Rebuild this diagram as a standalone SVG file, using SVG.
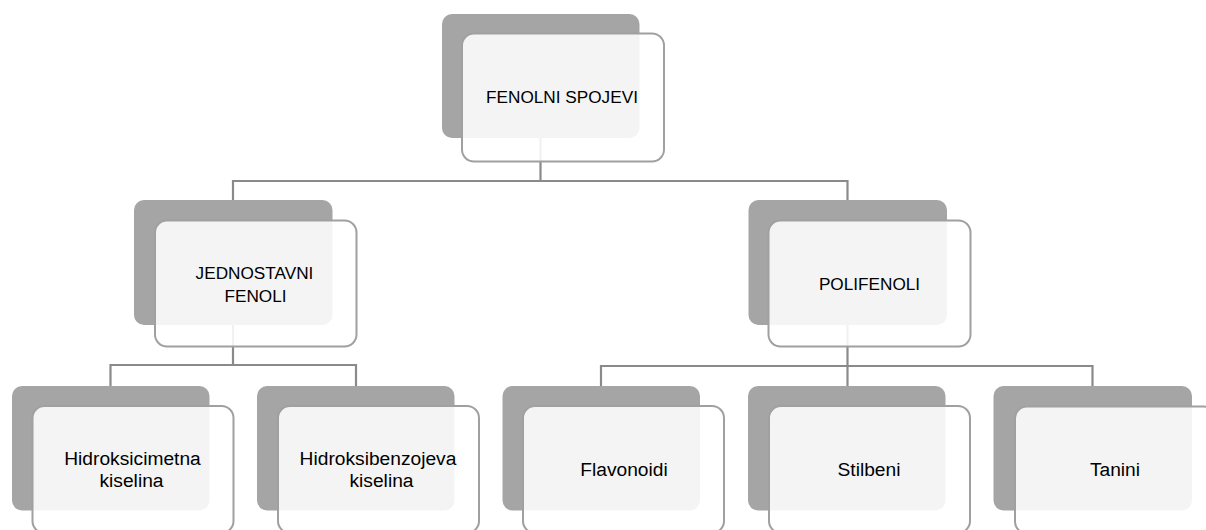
<svg xmlns="http://www.w3.org/2000/svg" width="1206" height="530" viewBox="0 0 1206 530">
<style>
.back{fill:#a5a5a5}
.front{fill:#ffffff;fill-opacity:0.88;stroke:#a0a0a0;stroke-width:2}
.conn{fill:none;stroke:#8a8a8a;stroke-width:2.2}
text{font-family:"Liberation Sans",Arial,sans-serif;fill:#000;text-anchor:middle}
.caps{font-size:17.2px}
.low{font-size:19.2px}
</style>
<rect width="1206" height="530" fill="#ffffff"/>
<g id="connectors" class="conn">
<path d="M540.5,138V181M233,181H848M233,180V200M847.5,180V200"/>
<path d="M233,325V365M110.5,365H356M110.5,364V386M356,364V386"/>
<path d="M847.5,325V366M601,366H1092.5M601,365V386M847.5,365V386M1092.5,365V386"/>
</g>
<g id="fenolni-spojevi">
<rect class="back" x="442" y="14" width="197.5" height="124" rx="10"/>
<rect class="front" x="462" y="33.5" width="202" height="128" rx="12"/>
<text class="caps" x="562" y="103">FENOLNI SPOJEVI</text>
</g>
<g id="jednostavni-fenoli">
<rect class="back" x="134" y="200" width="198.5" height="125" rx="10"/>
<rect class="front" x="155" y="220.5" width="201.5" height="126" rx="12"/>
<text class="caps" x="254.5" y="278.5">JEDNOSTAVNI</text>
<text class="caps" x="255.5" y="302">FENOLI</text>
</g>
<g id="polifenoli">
<rect class="back" x="748.5" y="200" width="198.5" height="125" rx="10"/>
<rect class="front" x="768.5" y="220.5" width="202" height="126" rx="12"/>
<text class="caps" x="869.5" y="290">POLIFENOLI</text>
</g>
<g id="hidroksicimetna">
<rect class="back" x="12" y="386" width="197.5" height="124.5" rx="10"/>
<rect class="front" x="32.5" y="406" width="201" height="127" rx="12"/>
<text class="low" x="132.5" y="465">Hidroksicimetna</text>
<text class="low" x="131.5" y="487">kiselina</text>
</g>
<g id="hidroksibenzojeva">
<rect class="back" x="257" y="386" width="197.5" height="124.5" rx="10"/>
<rect class="front" x="278" y="406" width="201" height="127" rx="12"/>
<text class="low" x="378" y="465">Hidroksibenzojeva</text>
<text class="low" x="381.5" y="487">kiselina</text>
</g>
<g id="flavonoidi">
<rect class="back" x="502.5" y="386" width="197.5" height="124.5" rx="10"/>
<rect class="front" x="523" y="406" width="201" height="127" rx="12"/>
<text class="low" x="624" y="476">Flavonoidi</text>
</g>
<g id="stilbeni">
<rect class="back" x="748" y="386" width="197.5" height="124.5" rx="10"/>
<rect class="front" x="769" y="406" width="201" height="127" rx="12"/>
<text class="low" x="869" y="476">Stilbeni</text>
</g>
<g id="tanini">
<rect class="back" x="993.5" y="386" width="198.5" height="124.5" rx="10"/>
<rect class="front" x="1015" y="406.5" width="201" height="127" rx="12"/>
<text class="low" x="1115" y="476">Tanini</text>
</g>
</svg>
